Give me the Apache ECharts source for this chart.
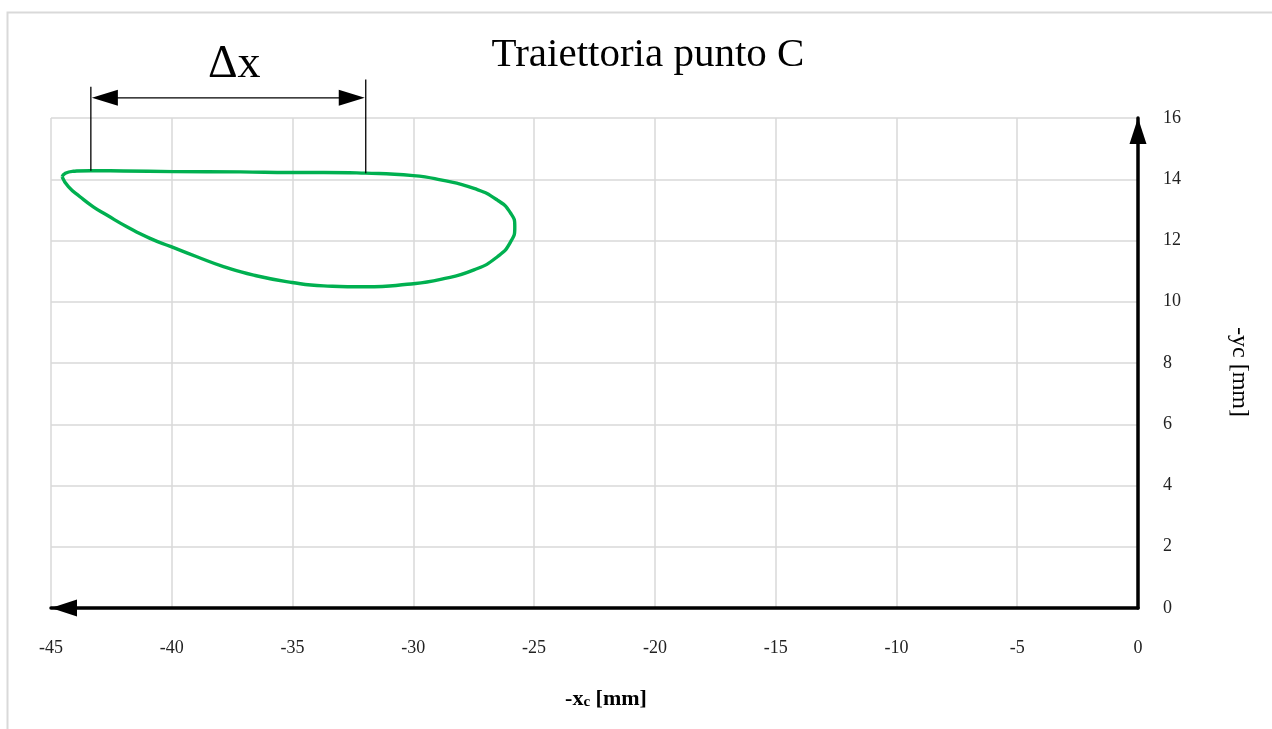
<!DOCTYPE html>
<html>
<head>
<meta charset="utf-8">
<script src="https://cdn.jsdelivr.net/npm/echarts@6/dist/echarts.min.js"></script>
<style>
  html, body { margin: 0; padding: 0; background: #fff; }
  #chart { width: 1272px; height: 729px; }
</style>
</head>
<body>
<div id="chart"></div>
<script>
// Trajectory of point C (closed loop), in mm
const pathX = [-44.54, -44.42, -44.08, -43.38, -42.0, -39.93, -37.16, -35.02, -33.71, -31.98,
               -30.0, -28.87, -27.49, -26.52, -25.97, -25.80, -25.97, -26.52, -27.49, -28.87,
               -30.25, -31.98, -33.71, -35.02, -36.61, -37.86, -38.96, -40.03, -40.90, -41.86,
               -42.69, -43.25, -43.80, -44.28, -44.54];
const pathY = [14.08, 14.19, 14.26, 14.28, 14.27, 14.25, 14.24, 14.22, 14.22, 14.20,
               14.12, 13.98, 13.70, 13.32, 12.89, 12.45, 11.96, 11.47, 11.04, 10.73,
               10.57, 10.49, 10.52, 10.63, 10.87, 11.15, 11.47, 11.80, 12.07, 12.45,
               12.83, 13.10, 13.43, 13.76, 14.08];

// Stroke limits measured on the upper branch (Δx)
const strokeX = [-43.35, -31.97];
const strokeY = [14.28, 14.20];

// Axis ticks
const xTicks = [-45, -40, -35, -30, -25, -20, -15, -10, -5, 0];
const yTicks = [0, 2, 4, 6, 8, 10, 12, 14, 16];

const FONT = '"Liberation Serif", "DejaVu Serif", serif';
const GREEN = '#00B050';

const chart = echarts.init(document.getElementById('chart'), null, { renderer: 'canvas' });

const points = pathX.map((x, i) => [x, pathY[i]]);

const option = {
  backgroundColor: '#ffffff',
  animation: false,
  grid: { left: 51, right: 134, top: 118, bottom: 121, containLabel: false },
  xAxis: {
    type: 'value',
    min: xTicks[0],
    max: xTicks[xTicks.length - 1],
    interval: 5,
    position: 'bottom',
    axisLine: {
      onZero: false,
      lineStyle: { color: '#000', width: 3.5 },
      symbol: ['triangle', 'none'],
      symbolSize: [17, 26],
      symbolOffset: [13, 0]
    },
    axisTick: { show: false },
    splitLine: { show: true, lineStyle: { color: '#d9d9d9', width: 1.5 } },
    axisLabel: { margin: 31, fontFamily: FONT, fontSize: 18, color: '#222' }
  },
  yAxis: {
    type: 'value',
    min: yTicks[0],
    max: yTicks[yTicks.length - 1],
    interval: 2,
    position: 'right',
    axisLine: {
      onZero: false,
      lineStyle: { color: '#000', width: 3.5 },
      symbol: ['none', 'triangle'],
      symbolSize: [17, 26],
      symbolOffset: [0, -13]
    },
    axisTick: { show: false },
    splitLine: { show: true, lineStyle: { color: '#d9d9d9', width: 1.5 } },
    axisLabel: { margin: 25, fontFamily: FONT, fontSize: 18, color: '#222', align: 'left' }
  },
  series: [{
    type: 'line',
    data: points,
    smooth: 0.55,
    showSymbol: false,
    symbol: 'none',
    lineStyle: { color: GREEN, width: 3.4 },
    z: 5
  }]
};

chart.setOption(option);

// Dimension annotation (Δx) placed through the chart's coordinate system
const toPx = (p) => chart.convertToPixel({ gridIndex: 0 }, p);
const pL = toPx([strokeX[0], strokeY[0]]);
const pR = toPx([strokeX[1], strokeY[1]]);
const levelY = toPx([0, 16.66])[1];
const topL = toPx([0, 17.02])[1];
const topR = toPx([0, 17.26])[1];
const headLen = 26, headHalf = 8;

const graphics = [
  // chart frame
  { type: 'rect', shape: { x: 7.5, y: 12.5, width: 1300, height: 800 },
    style: { fill: 'none', stroke: '#d9d9d9', lineWidth: 2 }, silent: true },
  // title
  { type: 'text', x: 648, y: 55,
    style: { text: 'Traiettoria punto C', font: '41px ' + FONT, fill: '#000',
             align: 'center', verticalAlign: 'middle' } },
  // extension lines
  { type: 'line', shape: { x1: pL[0], y1: topL, x2: pL[0], y2: pL[1] },
    style: { stroke: '#000', lineWidth: 1.3 }, z: 10 },
  { type: 'line', shape: { x1: pR[0], y1: topR, x2: pR[0], y2: pR[1] },
    style: { stroke: '#000', lineWidth: 1.3 }, z: 10 },
  // dimension line with arrowheads
  { type: 'line', shape: { x1: pL[0] + headLen, y1: levelY, x2: pR[0] - headLen, y2: levelY },
    style: { stroke: '#000', lineWidth: 1.3 }, z: 10 },
  { type: 'polygon', shape: { points: [[pL[0] + 1, levelY], [pL[0] + 1 + headLen, levelY - headHalf], [pL[0] + 1 + headLen, levelY + headHalf]] },
    style: { fill: '#000' }, z: 10 },
  { type: 'polygon', shape: { points: [[pR[0] - 1, levelY], [pR[0] - 1 - headLen, levelY - headHalf], [pR[0] - 1 - headLen, levelY + headHalf]] },
    style: { fill: '#000' }, z: 10 },
  { type: 'text', x: (pL[0] + pR[0]) / 2 + 6, y: 65,
    style: { text: 'Δx', font: '46px ' + FONT, fill: '#000', align: 'center', verticalAlign: 'middle' }, z: 10 },
  // axis names
  { type: 'text', x: 606, y: 697,
    style: {
      text: '{b|-x}{s|c}{b| [mm]}',
      align: 'center', verticalAlign: 'middle',
      rich: {
        b: { fontFamily: FONT, fontWeight: 'bold', fontSize: 22, fill: '#000', verticalAlign: 'bottom', lineHeight: 26 },
        s: { fontFamily: FONT, fontWeight: 'bold', fontSize: 15, fill: '#000', verticalAlign: 'bottom', lineHeight: 4 }
      }
    } },
  { type: 'text', x: 1239, y: 372, rotation: -Math.PI / 2,
    style: { text: '-yc [mm]', font: '24px ' + FONT, fill: '#000', align: 'center', verticalAlign: 'middle' } }
];

chart.setOption({ graphic: graphics });
</script>
</body>
</html>
